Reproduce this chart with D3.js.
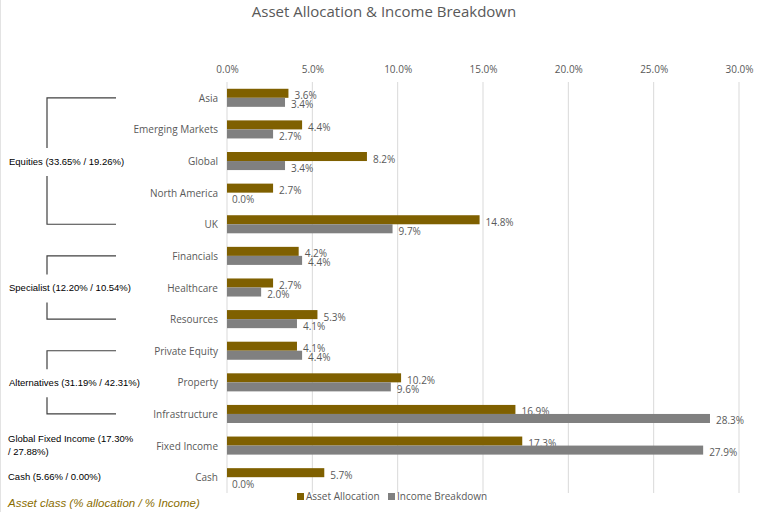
<!DOCTYPE html>
<html lang="en">
<head>
<meta charset="UTF-8">
<title>Asset Allocation & Income Breakdown</title>
<style>
  body { margin: 0; background: #fff; }
  svg { display: block; font-family: "Open Sans", "Noto Sans", sans-serif; }
</style>
</head>
<body>
<script src="https://cdn.jsdelivr.net/npm/d3@7"></script>
<script>
// données
const categories = ['Asia', 'Emerging Markets', 'Global', 'North America', 'UK',
  'Financials', 'Healthcare', 'Resources', 'Private Equity', 'Property',
  'Infrastructure', 'Fixed Income', 'Cash'];
const allocation = [3.6, 4.4, 8.2, 2.7, 14.8, 4.2, 2.7, 5.3, 4.1, 10.2, 16.9, 17.3, 5.7];
const income = [3.4, 2.7, 3.4, 0.0, 9.7, 4.4, 2.0, 4.1, 4.4, 9.6, 28.3, 27.9, 0.0];
const xTicks = [0, 5, 10, 15, 20, 25, 30];
const seriesNames = ['Asset Allocation', 'Income Breakdown'];
const colours = ['#7f6000', '#808080'];

// groupes d'actifs : première et dernière catégorie couverte
const groups = [
  { label: ['Equities (33.65% / 19.26%)'], first: 'Asia', last: 'UK', bracket: true },
  { label: ['Specialist (12.20% / 10.54%)'], first: 'Financials', last: 'Resources', bracket: true },
  { label: ['Alternatives (31.19% / 42.31%)'], first: 'Private Equity', last: 'Infrastructure', bracket: true },
  { label: ['Global Fixed Income (17.30%', '/ 27.88%)'], first: 'Fixed Income', last: 'Fixed Income', bracket: false },
  { label: ['Cash (5.66% / 0.00%)'], first: 'Cash', last: 'Cash', bracket: false }
];

const W = 768, H = 512;
const margin = { left: 227, right: 29, top: 82, bottom: 19 };

const svg = d3.select('body').append('svg')
  .attr('width', W)
  .attr('height', H);

svg.append('rect')
  .attr('x', 0.5).attr('y', -1)
  .attr('width', W).attr('height', H + 2)
  .attr('fill', 'none').attr('stroke', '#e3e3e3');

// échelles
const x = d3.scaleLinear().domain([0, 30]).range([margin.left, W - margin.right]);
const y = d3.scaleBand().domain(categories).range([margin.top, H - margin.bottom]);
const sub = d3.scaleBand().domain([0, 1]).range([0, y.bandwidth()]).paddingInner(0).paddingOuter(0.75);

// titre
svg.append('text')
  .attr('x', 384).attr('y', 17)
  .attr('text-anchor', 'middle')
  .attr('font-size', 15)
  .attr('fill', '#595959')
  .text('Asset Allocation & Income Breakdown');

// axe du haut + grille
const axe = d3.axisTop(x).tickValues(xTicks).tickFormat(d => d.toFixed(1) + '%').tickSize(0).tickPadding(8);
const gAxe = svg.append('g')
  .attr('transform', `translate(0,${margin.top - 1})`)
  .call(axe);
gAxe.select('.domain').remove();
gAxe.selectAll('text').attr('font-size', 10).attr('fill', '#595959').attr('font-family', '"Open Sans", sans-serif');

svg.append('g').selectAll('line')
  .data(xTicks)
  .enter()
  .append('line')
    .attr('x1', d => x(d)).attr('x2', d => x(d))
    .attr('y1', margin.top).attr('y2', H - margin.bottom)
    .attr('stroke', '#d9d9d9')
    .attr('stroke-width', 1);

// noms des catégories
svg.append('g').selectAll('text')
  .data(categories)
  .enter()
  .append('text')
    .attr('x', margin.left - 9)
    .attr('y', d => y(d) + y.bandwidth() / 2 + 4)
    .attr('text-anchor', 'end')
    .attr('font-size', 10)
    .attr('fill', '#595959')
    .text(d => d);

// barres
const series = [allocation, income];
series.forEach((vals, s) => {
  const g = svg.append('g');
  g.selectAll('rect')
    .data(vals)
    .enter()
    .append('rect')
      .attr('x', x(0))
      .attr('y', (d, i) => y(categories[i]) + sub(s))
      .attr('width', d => x(d) - x(0))
      .attr('height', sub.bandwidth())
      .attr('fill', colours[s]);
  g.selectAll('text')
    .data(vals)
    .enter()
    .append('text')
      .attr('x', d => x(d) + (d === 0 ? 5 : 6))
      .attr('y', (d, i) => y(categories[i]) + sub(s) + sub.bandwidth() / 2 + 6)
      .attr('font-size', 10)
      .attr('fill', '#595959')
      .text(d => d.toFixed(1) + '%');
});

// accolades et libellés des groupes
const gGroups = svg.append('g');
groups.forEach(gr => {
  const y0 = y(gr.first) + y.bandwidth() / 2;
  const y1 = y(gr.last) + y.bandwidth() / 2;
  const mid = (y0 + y1) / 2;
  if (gr.bracket) {
    const bx = 47, ex = 116;
    gGroups.append('path')
      .attr('d', `M${ex},${y0}H${bx}V${mid - 13}M${bx},${mid + 15}V${y1}H${ex}`)
      .attr('fill', 'none')
      .attr('stroke', '#404040')
      .attr('stroke-width', 1.2);
  }
  const t = gGroups.append('text')
    .attr('font-family', 'Arial, "Liberation Sans", sans-serif')
    .attr('font-size', 9.5)
    .attr('fill', '#000');
  gr.label.forEach((line, i) => {
    t.append('tspan')
      .attr('x', gr.bracket ? 9 : 8)
      .attr('y', mid + 3.5 - (gr.label.length - 1) * 6.5 + i * 13 + (gr.bracket ? 0 : -1))
      .text(line);
  });
});

svg.append('text')
  .attr('x', 8).attr('y', 507)
  .attr('font-family', 'Arial, "Liberation Sans", sans-serif')
  .attr('font-style', 'italic')
  .attr('font-size', 11.5)
  .attr('fill', '#8a6d00')
  .text('Asset class (% allocation / % Income)');

// légende
const leg = svg.append('g').selectAll('g')
  .data(seriesNames)
  .enter()
  .append('g')
    .attr('transform', (d, i) => `translate(${297 + i * 91},493)`);
leg.append('rect')
  .attr('width', 7).attr('height', 7)
  .attr('fill', (d, i) => colours[i]);
leg.append('text')
  .attr('x', 9).attr('y', 7)
  .attr('font-size', 10)
  .attr('fill', '#595959')
  .text(d => d);
</script>
</body>
</html>
